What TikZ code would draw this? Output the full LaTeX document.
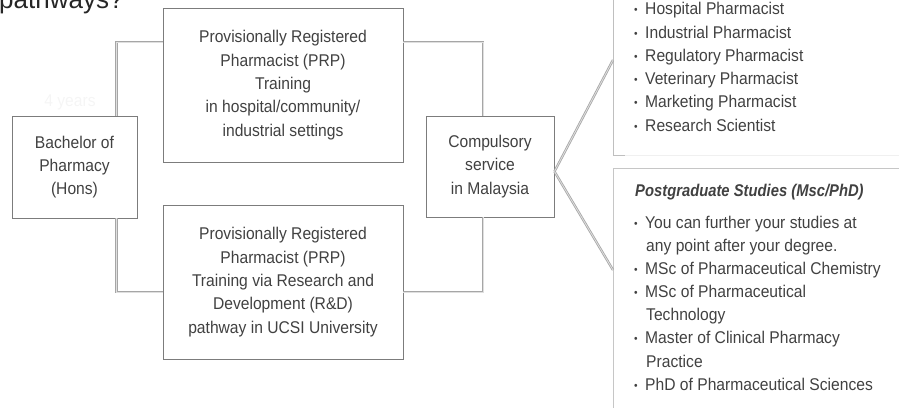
\documentclass[tikz,border=0pt]{standalone}
\usepackage{fontspec}
\setmainfont[FakeStretch=0.92]{Liberation Sans}
\newfontfamily\headfont{Liberation Sans}
\newfontfamily\pgfont[FakeStretch=0.87]{Liberation Sans}
\usetikzlibrary{shadows}
\definecolor{txt}{HTML}{414141}
\definecolor{edge}{HTML}{7C7C7C}
\newcommand\bul{\makebox[11pt][l]{\raisebox{0.8pt}{\fontsize{11}{11}\selectfont\textbullet}}}
\newcommand\nobul{\makebox[12pt][l]{}}
\begin{document}
\begin{tikzpicture}[x=1pt,y=-1pt,
  every node/.style={font=\fontsize{17}{23.3}\selectfont, text=txt},
  box/.style={draw=edge, line width=0.9pt, fill=white, align=center, inner sep=0pt,
    drop shadow={opacity=0.4, shadow xshift=1pt, shadow yshift=-1.2pt}},
  conn/.style={draw=gray!70, line width=0.8pt, double=gray!25, double distance=0.8pt},
  item/.style={anchor=base west, inner sep=0pt}]
\useasboundingbox (0,0) rectangle (899,408);

% heading fragment and faint text
\node[anchor=base west, inner sep=0pt, font=\headfont\fontsize{26}{26}\selectfont, text=black!85] (pw) at (-1,8) {pathways?};
\node[text=gray!8] (yrs) at (70,102) {4 years};

% right-hand panels
\draw[gray!50, line width=0.8pt] (613,0) -- (613,155) -- (625,155);
\draw[gray!12, line width=0.8pt] (625,155) -- (899,155);
\draw[gray!45, line width=0.8pt] (899,168) -- (613,168) -- (613,408);
\coordinate (cartop) at (613,60);
\coordinate (pgbot) at (613,270);

\foreach [count=\i] \t/\y in {Hospital Pharmacist/14, Industrial Pharmacist/38, Regulatory Pharmacist/61, Veterinary Pharmacist/84, Marketing Pharmacist/107, Research Scientist/131}
  \node[item] (c\i) at (634,\y) {\bul\t};

\node[item, font=\pgfont\fontsize{17}{17}\selectfont\bfseries\itshape] (pg) at (635,196) {Postgraduate Studies (Msc/PhD)};
\node[item] (p1) at (634,228) {\bul You can further your studies at};
\node[item] (p2) at (634,251) {\nobul any point after your degree.};
\node[item] (p3) at (634,274) {\bul MSc of Pharmaceutical Chemistry};
\node[item] (p4) at (634,297) {\bul MSc of Pharmaceutical};
\node[item] (p5) at (634,320) {\nobul Technology};
\node[item] (p6) at (634,343) {\bul Master of Clinical Pharmacy};
\node[item] (p7) at (634,367) {\nobul Practice};
\node[item] (p8) at (634,390) {\bul PhD of Pharmaceutical Sciences};

% boxes
\node[box, minimum width=125, minimum height=102] (bach) at (74.5,167) {Bachelor of\\Pharmacy\\(Hons)};
\node[box, minimum width=240, minimum height=154] (prp1) at (283,85) {Provisionally Registered\\Pharmacist (PRP)\\Training\\in hospital/community/\\industrial settings};
\node[box, minimum width=240, minimum height=154] (prp2) at (283,282) {Provisionally Registered\\Pharmacist (PRP)\\Training via Research and\\Development (R\&D)\\pathway in UCSI University};
\node[box, minimum width=128, minimum height=101] (comp) at (490,166.5) {Compulsory\\service\\in Malaysia};

% connectors
\draw[conn] ([xshift=-21pt]bach.north east) |- ([yshift=43pt]prp1.west);
\draw[conn] ([xshift=-21pt]bach.south east) |- ([yshift=-10pt]prp2.west);
\draw[conn] ([yshift=43pt]prp1.east) -| ([xshift=-7pt]comp.north);
\draw[conn] ([yshift=-10pt]prp2.east) -| ([xshift=-7pt]comp.south);
\draw[conn] ([yshift=-5pt]comp.east) -- (cartop);
\draw[conn] ([yshift=-5pt]comp.east) -- (pgbot);
\end{tikzpicture}
\end{document}
